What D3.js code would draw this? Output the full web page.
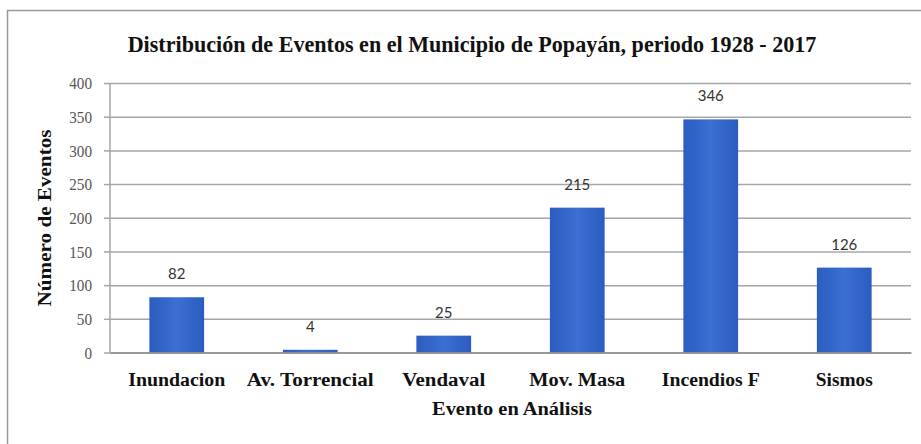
<!DOCTYPE html>
<html>
<head>
<meta charset="utf-8">
<script src="https://cdn.jsdelivr.net/npm/d3@7"></script>
<style>
  html, body { margin: 0; padding: 0; background: #fff; }
  svg { display: block; }
</style>
</head>
<body>
<svg id="chart" width="921" height="444"></svg>
<script>
// Event counts per type, Popayán 1928 - 2017
const categories = ["Inundacion", "Av. Torrencial", "Vendaval", "Mov. Masa", "Incendios F", "Sismos"];
const values = [82, 4, 25, 215, 346, 126];
const yTicks = [0, 50, 100, 150, 200, 250, 300, 350, 400];

const titleText = "Distribución de Eventos en el Municipio de Popayán, periodo 1928 - 2017";
const xTitle = "Evento en Análisis";
const yTitle = "Número de Eventos";

const SERIF = "'Liberation Serif', 'Times New Roman', serif";
const SANS = "Lato, 'Liberation Sans', sans-serif";

const svg = d3.select("#chart");
const W = 921, H = 444;
const plot = { left: 110, right: 911, top: 83, bottom: 352.5 };

// squeeze a text element horizontally around (cx, cy) so it spans `width` px
function fitWidth(sel, width, cx, cy) {
  sel.each(function () {
    const w = this.getComputedTextLength();
    const s = width / w;
    d3.select(this).attr("transform",
      `translate(${cx},${cy}) scale(${s},1)`).attr("x", 0).attr("y", 0);
  });
}

// outer frame (top and left edges visible)
svg.append("path")
  .attr("d", `M7.5,${H} V10.5 H${W}`)
  .attr("fill", "none").attr("stroke", "#9a9a9a").attr("stroke-width", 1.5);

const x = d3.scaleBand().domain(categories).range([plot.left, plot.right]).paddingInner(0.59).paddingOuter(0.295);
const y = d3.scaleLinear().domain([0, 400]).range([plot.bottom, plot.top]);

// bar fill
const defs = svg.append("defs");
const grad = defs.append("linearGradient").attr("id", "barFill").attr("x1", 0).attr("x2", 1).attr("y1", 0).attr("y2", 0);
grad.append("stop").attr("offset", "0%").attr("stop-color", "#2c5cc0");
grad.append("stop").attr("offset", "50%").attr("stop-color", "#3b6fd2");
grad.append("stop").attr("offset", "100%").attr("stop-color", "#2c5cc0");

// gridlines + y axis
const yAxis = d3.axisLeft(y).tickValues(yTicks).tickSize(-(plot.right - plot.left)).tickPadding(16);
const gy = svg.append("g").attr("transform", `translate(${plot.left},0)`).call(yAxis);
gy.attr("font-family", null).attr("font-size", null);
gy.select(".domain").remove();
gy.selectAll(".tick line").attr("stroke", "#a6a6a6").attr("stroke-width", 1.5);
gy.selectAll(".tick text")
  .style("font-family", SERIF).style("font-size", "16px").attr("fill", "#555")
  .attr("dy", null).attr("dominant-baseline", "central")
  .each(function (d) {
    const w = this.getComputedTextLength();
    const target = String(d).length * 7.6;
    d3.select(this).attr("x", null)
      .attr("transform", `translate(-18,0) scale(${target / w},1)`);
  });

// vertical axis line at left edge of plot
svg.append("line")
  .attr("x1", plot.left).attr("x2", plot.left).attr("y1", plot.top).attr("y2", plot.bottom)
  .attr("stroke", "#a6a6a6").attr("stroke-width", 1.5);
gy.selectAll(".tick").append("line")
  .attr("x1", -6).attr("x2", 0).attr("stroke", "#a6a6a6").attr("stroke-width", 1.5);

// bars
svg.append("g").selectAll("rect")
  .data(values)
  .join("rect")
  .attr("x", (d, i) => x(categories[i]))
  .attr("width", x.bandwidth())
  .attr("y", d => y(d))
  .attr("height", d => y(0) - y(d))
  .attr("fill", "url(#barFill)");

// value labels
svg.append("g").selectAll("text")
  .data(values)
  .join("text")
  .style("font-family", SANS).style("font-size", "15px")
  .attr("x", (d, i) => x(categories[i]) + x.bandwidth() / 2)
  .attr("y", d => y(d) - 18)
  .attr("text-anchor", "middle")
  .attr("fill", "#333")
  .text(d => d);

// x axis
const labelWidths = [97, 127, 83, 96, 98, 57];
const xAxis = d3.axisBottom(x).tickSize(0).tickPadding(19);
const gx = svg.append("g").attr("transform", `translate(0,${plot.bottom})`).call(xAxis);
gx.attr("font-family", null).attr("font-size", null);
gx.select(".domain").attr("stroke", "#8c8c8c").attr("stroke-width", 1.5);
gx.selectAll(".tick text")
  .style("font-family", SERIF).style("font-weight", "bold").style("font-size", "19px")
  .attr("fill", "#111").attr("dy", null)
  .each(function (d, i) {
    const w = this.getComputedTextLength();
    d3.select(this).attr("y", null)
      .attr("transform", `translate(0,33) scale(${labelWidths[i] / w},1)`);
  });

// titles
function serifText(px) {
  return svg.append("text")
    .style("font-family", SERIF).style("font-weight", "bold").style("font-size", px + "px")
    .attr("fill", "#111").attr("text-anchor", "middle");
}

serifText(24).text(titleText).call(fitWidth, 689, 472, 52);
serifText(19).text(xTitle).call(fitWidth, 160, 512, 415);

const yt = serifText(19).text(yTitle);
const ytw = yt.node().getComputedTextLength();
yt.attr("transform", `translate(51,218) rotate(-90) scale(${177 / ytw},1)`);
</script>
</body>
</html>
